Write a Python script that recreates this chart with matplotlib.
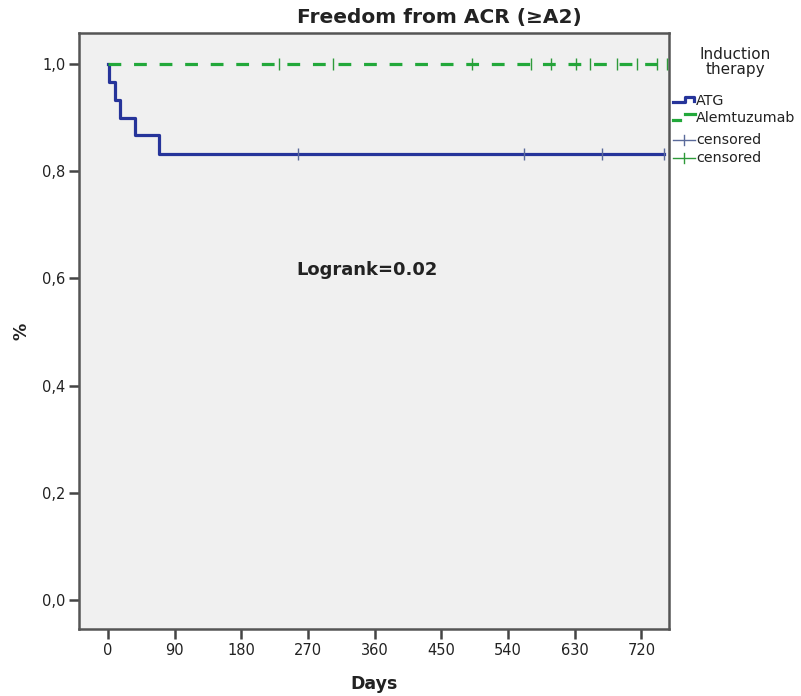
import matplotlib
matplotlib.use("Agg")
import matplotlib.pyplot as plt
from matplotlib.lines import Line2D

# ---- data ----
atg_times = [0, 1, 9, 16, 36, 68, 750]
atg_surv = [1.0, 0.967, 0.933, 0.900, 0.867, 0.833, 0.833]
atg_censor_times = [256, 561, 667, 750]
atg_censor_surv = [0.833, 0.833, 0.833, 0.833]

alem_times = [0, 756]
alem_surv = [1.0, 1.0]
alem_censor_times = [230, 304, 491, 571, 598, 631, 650, 687, 714, 741, 755]
alem_censor_surv = [1.0] * len(alem_censor_times)

x_ticks = [0, 90, 180, 270, 360, 450, 540, 630, 720]
y_ticks = [0.0, 0.2, 0.4, 0.6, 0.8, 1.0]
y_tick_labels = ["0,0", "0,2", "0,4", "0,6", "0,8", "1,0"]

title = "Freedom from ACR (\u2265A2)"
annotation = "Logrank=0.02"
legend_title = "Induction\ntherapy"
legend_labels = ["ATG", "Alemtuzumab", "censored", "censored"]

blue = "#26349a"
green = "#22a83a"
cens_blue = "#5a6a9a"
cens_green = "#2e9a3a"
txt = "#222222"

fig = plt.figure(figsize=(8.01, 6.96), dpi=100)
ax = fig.add_axes([0.099, 0.0963, 0.736, 0.8563])
ax.set_facecolor("#f0f0f0")

ax.step(atg_times, atg_surv, where="post", color=blue, lw=2.3, zorder=3)
ax.plot(atg_censor_times, atg_censor_surv, ls="none", marker="|", ms=8, mew=1.0,
        color=cens_blue, zorder=4)
l_alem, = ax.step(alem_times, alem_surv, where="post", color=green, lw=2.3, zorder=3)
l_alem.set_dashes((4, 4))
ax.plot(alem_censor_times, alem_censor_surv, ls="none", marker="|", ms=8, mew=1.0,
        color=cens_green, zorder=4)

ax.set_xlim(-39, 757)
ax.set_ylim(-0.054, 1.058)
ax.set_xticks(x_ticks)
ax.set_xticklabels([str(v) for v in x_ticks])
ax.set_yticks(y_ticks)
ax.set_yticklabels(y_tick_labels)
ax.tick_params(axis="both", direction="out", length=7, width=1.8, color="#444444",
               labelsize=10.5, labelcolor=txt, pad=3)
for s in ax.spines.values():
    s.set_color("#555555")
    s.set_linewidth(1.8)

ax.set_xlabel("Days", fontsize=12.5, fontweight="bold", color=txt, labelpad=12)
ax.set_ylabel("%", fontsize=12.5, fontweight="bold", color=txt, labelpad=8)

ax.text(349, 0.616, annotation, fontsize=13, fontweight="bold", color=txt,
        ha="center", va="center")

fig.text(439 / 801, 1 - 18 / 696, title, fontsize=14.5, fontweight="bold",
         color=txt, ha="center", va="center")

# ---- legend (drawn manually in figure pixels) ----
W, H = 801.0, 696.0
def fx(px): return px / W
def fy(py): return 1 - py / H

fig.text(fx(735), fy(62), legend_title, fontsize=11, color=txt, ha="center",
         va="center", linespacing=1.05)

# ATG step handle
fig.add_artist(Line2D([fx(673), fx(685), fx(685), fx(694), fx(694)],
                      [fy(102), fy(102), fy(97), fy(97), fy(101)],
                      color=blue, lw=2.3))
# Alemtuzumab handle
fig.add_artist(Line2D([fx(673), fx(680)], [fy(120), fy(120)], color=green, lw=2.3))
fig.add_artist(Line2D([fx(685), fx(695)], [fy(114), fy(114)], color=green, lw=2.3))
# censored handles
for yy, c in [(140, cens_blue), (158, cens_green)]:
    fig.add_artist(Line2D([fx(673), fx(695)], [fy(yy), fy(yy)], color=c, lw=1.0))
    fig.add_artist(Line2D([fx(684), fx(684)], [fy(yy - 5), fy(yy + 5)], color=c, lw=1.0))

for lab, yy in zip(legend_labels, [101, 118, 140, 158]):
    fig.text(fx(696), fy(yy), lab, fontsize=10.3, color=txt, ha="left", va="center")

fig.savefig("out.png", dpi=100, facecolor="white")
